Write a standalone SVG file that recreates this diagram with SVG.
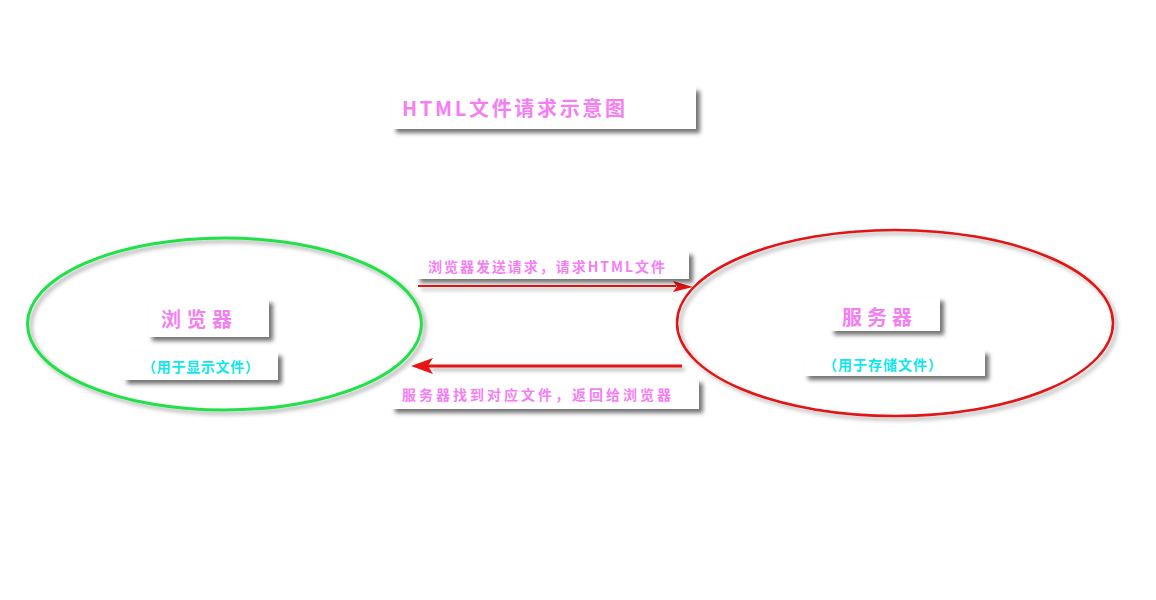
<svg xmlns="http://www.w3.org/2000/svg" width="1156" height="600" viewBox="0 0 1156 600">
<style>
.box{fill:#ffffff;filter:url(#sh)}
.pink{fill:#f57ef5;font-family:"Noto Sans CJK SC","Liberation Sans",sans-serif;font-weight:bold}
.cyan{fill:#10e6f0;font-family:"Noto Sans CJK SC","Liberation Sans",sans-serif;font-weight:bold}
.conn{stroke:#e01414;fill:none;filter:url(#sh2)}
</style>
<defs>
<filter id="sh" x="-20%" y="-40%" width="150%" height="200%">
<feDropShadow dx="4" dy="4" stdDeviation="2" flood-color="#000" flood-opacity="0.55"/>
</filter>
<filter id="sh2" filterUnits="userSpaceOnUse" x="0" y="0" width="1156" height="600">
<feDropShadow dx="3" dy="3" stdDeviation="2" flood-color="#000" flood-opacity="0.35"/>
</filter>
</defs>
<rect width="1156" height="600" fill="#ffffff"/>
<g id="title">
<rect class="box" x="392" y="87" width="304" height="42"/>
<text class="pink" x="402" y="116" font-size="20" textLength="223" lengthAdjust="spacing">HTML文件请求示意图</text>
</g>
<g id="browser">
<ellipse cx="224.5" cy="324" rx="197" ry="86" fill="none" stroke="#22e048" stroke-width="3" filter="url(#sh2)"/>
<rect class="box" x="148" y="299" width="121" height="38"/>
<text class="pink" x="161" y="327" font-size="20" textLength="71" lengthAdjust="spacing">浏览器</text>
<rect class="box" x="123" y="352" width="155" height="28"/>
<text class="cyan" x="142" y="372" font-size="14" textLength="117" lengthAdjust="spacing">（用于显示文件）</text>
</g>
<g id="server">
<ellipse cx="895" cy="323" rx="218" ry="93" fill="none" stroke="#e01414" stroke-width="2.5" filter="url(#sh2)"/>
<rect class="box" x="830" y="297" width="110" height="34"/>
<text class="pink" x="842" y="325" font-size="20" textLength="70" lengthAdjust="spacing">服务器</text>
<rect class="box" x="804" y="350" width="181" height="26"/>
<text class="cyan" x="823" y="370" font-size="14" textLength="119" lengthAdjust="spacing">（用于存储文件）</text>
</g>
<g id="connectors">
<g id="request">
<path class="conn" d="M418 286 L676 286" stroke-width="2"/>
<path d="M693 287 L673 281 L677 286.5 L673 292 Z" fill="#e01414"/>
<rect class="box" x="416" y="251" width="273" height="28"/>
<text class="pink" x="428" y="272" font-size="14" textLength="237" lengthAdjust="spacing">浏览器发送请求，请求HTML文件</text>
</g>
<g id="response">
<path class="conn" d="M682 366 L428 366" stroke-width="3"/>
<path d="M411 366 L433 358 L428 366 L433 374 Z" fill="#e81414"/>
<rect class="box" x="391" y="379" width="308" height="30"/>
<text class="pink" x="402" y="400" font-size="14" textLength="269" lengthAdjust="spacing">服务器找到对应文件，返回给浏览器</text>
</g>
</g>
</svg>
